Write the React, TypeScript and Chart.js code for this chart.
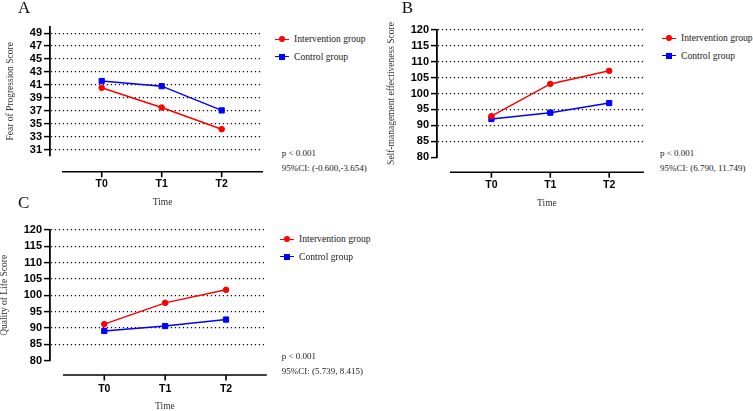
import React, { useEffect, useRef } from 'react';
import { Chart, registerables } from 'chart.js';

Chart.register(...registerables);

// ---------- data ----------
const categories = ['T0', 'T1', 'T2'];
const seriesNames = ['Intervention group', 'Control group'];
const xAxisTitle = 'Time';

const fopIntervention = [40.55, 37.5, 34.15];
const fopControl = [41.6, 40.8, 37.05];
const fopTicks = [31, 33, 35, 37, 39, 41, 43, 45, 47, 49];

const smeIntervention = [92.9, 103, 107.1];
const smeControl = [92, 94, 97];
const smeTicks = [80, 85, 90, 95, 100, 105, 110, 115, 120];

const qolIntervention = [91.2, 97.7, 101.7];
const qolControl = [89.1, 90.6, 92.6];
const qolTicks = [80, 85, 90, 95, 100, 105, 110, 115, 120];

const fopStats = ['p < 0.001', '95%CI: (-0.600,-3.654)'];
const smeStats = ['p < 0.001', '95%CI: (6.790, 11.749)'];
const qolStats = ['p < 0.001', '95%CI: (5.739, 8.415)'];

// ---------- styles ----------
const SERIF = '"Liberation Serif", "Times New Roman", serif';
const SANS = '"Liberation Sans", Arial, sans-serif';
const RED = '#ff0000';
const BLUE = '#0000ff';

type PanelSpec = {
  letter: string;
  letterX: number;
  letterY: number;
  left: number;
  top: number;
  width: number;
  height: number;
  pad: { top: number; right: number; bottom: number; left: number };
  yWidth: number;
  yTitle: string;
  yTitlePad: number;
  yMin: number;
  yMax: number;
  yTicks: number[];
  xMin: number;
  xMax: number;
  axisGap: number;
  axisFrom: number;
  axisTo: number;
  xHeight: number;
  labelPad: number;
  intervention: number[];
  control: number[];
  legendX: number;
  legendY: number;
  stats: string[];
  statsX: number;
  statsY: number;
};

const panels: PanelSpec[] = [
  {
    letter: 'A', letterX: 18, letterY: 7.5,
    left: 0, top: 0, width: 268, height: 210,
    pad: { top: 26.7, right: 6, bottom: 2, left: 0 },
    yWidth: 50, yTitle: 'Fear of Progression Score', yTitlePad: 5,
    yMin: 30, yMax: 50, yTicks: fopTicks,
    xMin: -0.862, xMax: 2.672, axisGap: 15.7, axisFrom: -0.662, axisTo: 2.69,
    xHeight: 52, labelPad: 21.7,
    intervention: fopIntervention, control: fopControl,
    legendX: 275, legendY: 39.3, stats: fopStats, statsX: 281.7, statsY: 153.3,
  },
  {
    letter: 'B', letterX: 401.7, letterY: 7.5,
    left: 380, top: 0, width: 270, height: 210,
    pad: { top: 29.7, right: 4, bottom: 0.7, left: 0 },
    yWidth: 57, yTitle: 'Self-management effectiveness Score', yTitlePad: 5.5,
    yMin: 80, yMax: 120, yTicks: smeTicks,
    xMin: -0.924, xMax: 2.608, axisGap: 15, axisFrom: -0.704, axisTo: 2.59,
    xHeight: 52, labelPad: 21.4,
    intervention: smeIntervention, control: smeControl,
    legendX: 662, legendY: 38.3, stats: smeStats, statsX: 660, statsY: 153.3,
  },
  {
    letter: 'C', letterX: 18, letterY: 203,
    left: 0, top: 200, width: 270, height: 213,
    pad: { top: 30, right: 6, bottom: 0.3, left: 0 },
    yWidth: 50, yTitle: 'Quality of Life Score', yTitlePad: -1.5,
    yMin: 80, yMax: 120, yTicks: qolTicks,
    xMin: -0.892, xMax: 2.624, axisGap: 14.3, axisFrom: -0.679, axisTo: 2.67,
    xHeight: 52, labelPad: 22.3,
    intervention: qolIntervention, control: qolControl,
    legendX: 280, legendY: 239.3, stats: qolStats, statsX: 281.7, statsY: 355.7,
  },
];

function PanelChart({ spec }: { spec: PanelSpec }) {
  const ref = useRef<HTMLCanvasElement | null>(null);

  useEffect(() => {
    const canvas = ref.current;
    if (!canvas) return;

    const offsetAxis = {
      id: 'offsetAxis',
      afterDraw(chart: any) {
        const { ctx, chartArea } = chart;
        const xs = chart.scales.x;
        const y0 = chartArea.bottom + spec.axisGap;
        const xa = xs.getPixelForValue(spec.axisFrom);
        const xb = xs.getPixelForValue(spec.axisTo);
        ctx.save();
        ctx.strokeStyle = '#000';
        ctx.lineWidth = 1.6;
        ctx.beginPath();
        ctx.moveTo(xa, y0);
        ctx.lineTo(xb, y0);
        categories.forEach((_, i) => {
          const px = xs.getPixelForValue(i);
          ctx.moveTo(px, y0);
          ctx.lineTo(px, y0 + 5.5);
        });
        ctx.stroke();
        ctx.fillStyle = '#333';
        ctx.font = `9.5px ${SERIF}`;
        ctx.textAlign = 'center';
        ctx.textBaseline = 'middle';
        ctx.fillText(xAxisTitle, (xa + xb) / 2, chartArea.bottom + 46);
        ctx.restore();
      },
    };

    const toPoints = (arr: number[]) => arr.map((v, i) => ({ x: i, y: v }));

    const chart = new Chart(canvas, {
      type: 'line',
      data: {
        datasets: [
          {
            label: seriesNames[0],
            data: toPoints(spec.intervention),
            borderColor: RED,
            backgroundColor: RED,
            pointBackgroundColor: RED,
            pointBorderColor: RED,
            pointStyle: 'circle',
            pointRadius: 2.8,
            pointBorderWidth: 1,
            borderWidth: 1.5,
            tension: 0,
          },
          {
            label: seriesNames[1],
            data: toPoints(spec.control),
            borderColor: BLUE,
            backgroundColor: BLUE,
            pointBackgroundColor: BLUE,
            pointBorderColor: BLUE,
            pointStyle: 'rect',
            pointRadius: 3.7,
            pointBorderWidth: 1,
            borderWidth: 1.5,
            tension: 0,
          },
        ],
      },
      options: {
        responsive: false,
        animation: false,
        devicePixelRatio: 1,
        layout: { padding: spec.pad },
        plugins: {
          legend: { display: false },
          tooltip: { enabled: false },
        },
        scales: {
          x: {
            type: 'linear',
            min: spec.xMin,
            max: spec.xMax,
            afterBuildTicks: (s: any) => {
              s.ticks = categories.map((_, i) => ({ value: i }));
            },
            afterFit: (s: any) => {
              s.height = spec.xHeight;
            },
            ticks: {
              callback: (v: any) => categories[v as number] ?? '',
              font: { family: SANS, size: 10.5, weight: 'bold' },
              color: '#000',
              padding: spec.labelPad,
              autoSkip: false,
              maxRotation: 0,
            },
            grid: { display: false, drawTicks: false },
            border: { display: false },
          },
          y: {
            type: 'linear',
            min: spec.yMin,
            max: spec.yMax,
            afterBuildTicks: (s: any) => {
              s.ticks = spec.yTicks.map((v) => ({ value: v }));
            },
            afterFit: (s: any) => {
              s.width = spec.yWidth;
            },
            ticks: {
              font: { family: SANS, size: 11, weight: 'bold' },
              color: '#000',
              padding: 2,
              autoSkip: false,
            },
            grid: {
              color: (c: any) => (c.tick && c.tick.value === spec.yMin ? 'rgba(0,0,0,0)' : '#111'),
              lineWidth: 1.2,
              tickColor: '#000',
              tickWidth: 1.5,
              tickLength: 6,
              tickBorderDash: [],
            },
            border: { display: true, color: '#000', width: 1.8, dash: [1.3, 2.7] },
            title: {
              display: true,
              text: spec.yTitle,
              font: { family: SERIF, size: 9.5 },
              color: '#333',
              padding: { top: spec.yTitlePad, bottom: 0 },
            },
          },
        },
      },
      plugins: [offsetAxis],
    } as any);

    return () => chart.destroy();
  }, [spec]);

  return (
    <div style={{ position: 'absolute', left: spec.left, top: spec.top, width: spec.width, height: spec.height }}>
      <canvas ref={ref} width={spec.width} height={spec.height} style={{ display: 'block' }} />
    </div>
  );
}

function LegendItem({ x, y, color, shape, label }: { x: number; y: number; color: string; shape: 'circle' | 'square'; label: string }) {
  const m = shape === 'circle' ? 5.8 : 6;
  return (
    <div style={{ position: 'absolute', left: x, top: y - 6, height: 12, display: 'flex', alignItems: 'center', whiteSpace: 'nowrap' }}>
      <div style={{ position: 'relative', width: 14, height: 12 }}>
        <div style={{ position: 'absolute', left: 0, top: 5.25, width: 14, height: 1.5, background: color }} />
        <div
          style={{
            position: 'absolute',
            left: 7 - m / 2,
            top: 6 - m / 2,
            width: m,
            height: m,
            background: color,
            borderRadius: shape === 'circle' ? '50%' : 0,
          }}
        />
      </div>
      <span style={{ marginLeft: 5, fontFamily: SERIF, fontSize: 9.6, lineHeight: '12px', color: '#1a1a1a' }}>{label}</span>
    </div>
  );
}

function PanelOverlay({ spec }: { spec: PanelSpec }) {
  return (
    <>
      <div
        style={{
          position: 'absolute',
          left: spec.letterX,
          top: spec.letterY - 8.6,
          fontFamily: SERIF,
          fontSize: 17,
          lineHeight: '17px',
          color: '#111',
        }}
      >
        {spec.letter}
      </div>
      <LegendItem x={spec.legendX} y={spec.legendY} color={RED} shape="circle" label={seriesNames[0]} />
      <LegendItem x={spec.legendX} y={spec.legendY + 17.4} color={BLUE} shape="square" label={seriesNames[1]} />
      {spec.stats.map((s, i) => (
        <div
          key={i}
          style={{
            position: 'absolute',
            left: spec.statsX,
            top: spec.statsY + i * 15 - 6,
            height: 12,
            lineHeight: '12px',
            fontFamily: SERIF,
            fontSize: 9,
            color: '#1a1a1a',
            whiteSpace: 'nowrap',
          }}
        >
          {s}
        </div>
      ))}
    </>
  );
}

export default function App() {
  return (
    <div
      style={{
        position: 'absolute',
        left: 0,
        top: 0,
        width: 753,
        height: 411,
        overflow: 'hidden',
        background: '#fff',
      }}
    >
      {panels.map((p) => (
        <PanelChart key={p.letter} spec={p} />
      ))}
      {panels.map((p) => (
        <PanelOverlay key={'o' + p.letter} spec={p} />
      ))}
    </div>
  );
}
